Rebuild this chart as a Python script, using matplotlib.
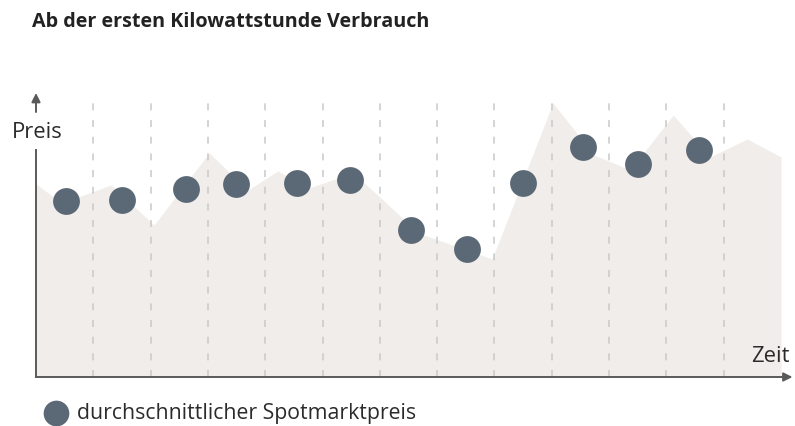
import matplotlib

matplotlib.use("Agg")

import matplotlib.pyplot as plt  # noqa: E402

plt.rcParams["font.family"] = ["Open Sans", "DejaVu Sans"]
plt.rcParams["lines.scale_dashes"] = False

# Spot price curve (months since start, arbitrary price units)
curve_x = [0.0, 0.45, 1.31, 2.06, 3.02, 3.70, 4.22, 4.76, 5.53, 6.00, 6.67,
           7.96, 9.02, 9.74, 10.37, 11.12, 11.76, 12.41, 13.0]
curve_y = [96.5, 87, 96, 76, 112, 93.5, 103, 94.5, 102, 90, 72,
           59, 137, 111, 103.5, 131, 110, 119, 110]

# Monthly average spot price
avg_x = [0.52, 1.50, 2.62, 3.49, 4.55, 5.48, 6.54, 7.52, 8.50, 9.55, 10.51, 11.57]
avg_y = [88, 88.5, 94, 96.5, 97, 98.5, 73.5, 64, 97, 115, 106.5, 113.5]

month_lines = list(range(1, 13))

TITLE = "Ab der ersten Kilowattstunde Verbrauch"
LEGEND = "durchschnittlicher Spotmarktpreis"

FILL = "#f0edea"
DOT = "#5b6875"
DASH = "#c9c9c9"
AXIS = "#5a5a5a"
TEXT = "#2b2b2b"

fig = plt.figure(figsize=(7.95, 4.26), dpi=100)
ax = fig.add_axes([36 / 795, 49 / 426, 745 / 795, 284 / 426])
ax.set_xlim(0, 13)
ax.set_ylim(0, 142)
ax.axis("off")

ax.fill_between(curve_x, curve_y, 0, color=FILL, lw=0, zorder=1)
for m in month_lines:
    ax.plot([m, m], [0, 139.5], color=DASH, lw=1.1, dashes=(5, 7), zorder=2)
ax.plot(avg_x, avg_y, "o", ms=19.3, color=DOT, mec="none", zorder=4)

# axes with arrows
ax.plot([0, 0], [0, 113.5], color=AXIS, lw=1.4, clip_on=False, zorder=3)
ax.annotate("", xy=(0, 142), xytext=(0, 132.5),
            arrowprops=dict(arrowstyle="-|>", color=AXIS, lw=1.4,
                            mutation_scale=13, shrinkA=0, shrinkB=0),
            annotation_clip=False)
ax.annotate("", xy=(13.2, 0), xytext=(0, 0),
            arrowprops=dict(arrowstyle="-|>", color=AXIS, lw=1.4,
                            mutation_scale=13, shrinkA=0, shrinkB=0),
            annotation_clip=False, zorder=3)
ax.text(0.02, 122.5, "Preis", ha="center", va="center", fontsize=15.8,
        color=TEXT, clip_on=False)
ax.text(13.15, 10.5, "Zeit", ha="right", va="center", fontsize=15.8,
        color=TEXT, clip_on=False)

fig.text(32 / 795, 1 - 22 / 426, TITLE, ha="left", va="center",
         fontsize=14.2, fontweight="bold", color="#222222")

# legend
fig.lines.append(plt.Line2D([56 / 795], [1 - 413 / 426], marker="o", ms=18.5,
                            color=DOT, mec="none", transform=fig.transFigure))
fig.text(77 / 795, 1 - 413 / 426, LEGEND, ha="left", va="center",
         fontsize=15.3, color=TEXT)

fig.savefig("out.png", dpi=100)
